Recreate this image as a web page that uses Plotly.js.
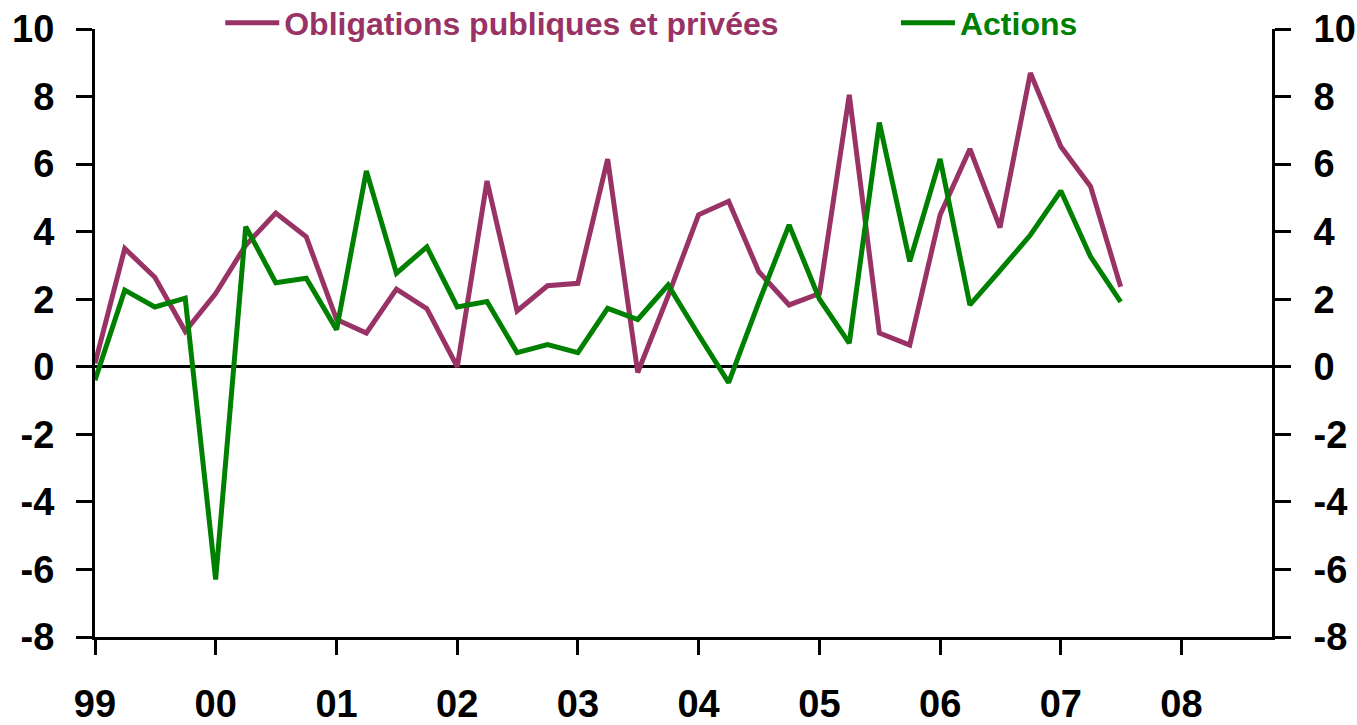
<!DOCTYPE html>
<html>
<head>
<meta charset="utf-8">
<script src="https://cdn.plot.ly/plotly-3.0.1.min.js"></script>
<style>html,body{margin:0;padding:0;background:#fff}#chart{width:1357px;height:725px}</style>
</head>
<body>
<div id="chart"></div>
<script>
// Quarterly dates (1999Q1 .. 2007Q3)
var quarters = [
  '1999-01-01','1999-04-01','1999-07-01','1999-10-01',
  '2000-01-01','2000-04-01','2000-07-01','2000-10-01',
  '2001-01-01','2001-04-01','2001-07-01','2001-10-01',
  '2002-01-01','2002-04-01','2002-07-01','2002-10-01',
  '2003-01-01','2003-04-01','2003-07-01','2003-10-01',
  '2004-01-01','2004-04-01','2004-07-01','2004-10-01',
  '2005-01-01','2005-04-01','2005-07-01','2005-10-01',
  '2006-01-01','2006-04-01','2006-07-01','2006-10-01',
  '2007-01-01','2007-04-01','2007-07-01'
];
var obligations = [
  0.1, 3.5, 2.65, 1.05,
  2.17, 3.6, 4.55, 3.85,
  1.4, 1.0, 2.3, 1.72,
  0.0, 5.5, 1.65, 2.4,
  2.47, 6.15, -0.17, 2.1,
  4.5, 4.9, 2.82, 1.83,
  2.17, 8.05, 1.0, 0.64,
  4.5, 6.45, 4.12, 8.7,
  6.52, 5.34, 2.37
];
var actions = [
  -0.4, 2.27, 1.77, 2.03,
  -6.3, 4.15, 2.49, 2.62,
  1.1, 5.8, 2.77, 3.55,
  1.77, 1.93, 0.42, 0.66,
  0.42, 1.73, 1.4, 2.42,
  0.95, -0.47, 1.9, 4.2,
  2.0, 0.7, 7.23, 3.12,
  6.15, 1.83, 2.85, 3.9,
  5.21, 3.26, 1.92
];
var seriesNames = ['Obligations publiques et privées', 'Actions'];
var seriesColors = ['#993366', '#008000'];
var yTickVals = [-8, -6, -4, -2, 0, 2, 4, 6, 8, 10];
var yTickText = ['-8', '-6', '-4', '-2', '0', '2', '4', '6', '8', '10'];

var FONT = 'Liberation Sans, Arial, sans-serif';

var traces = [
  {
    x: quarters, y: obligations, type: 'scatter', mode: 'lines',
    name: '<span style="color:' + seriesColors[0] + '">' + seriesNames[0] + '</span>',
    line: {color: seriesColors[0], width: 5},
    legend: 'legend',
    hoverinfo: 'skip'
  },
  {
    x: quarters, y: actions, type: 'scatter', mode: 'lines', yaxis: 'y2',
    name: '<span style="color:' + seriesColors[1] + '">' + seriesNames[1] + '</span>',
    line: {color: seriesColors[1], width: 5},
    legend: 'legend2',
    hoverinfo: 'skip'
  }
];

var yCommon = {
  range: [-8, 10], tickmode: 'array', tickvals: yTickVals, ticktext: yTickText,
  showline: true, linecolor: '#000', linewidth: 3,
  ticks: 'outside', ticklen: 16, tickwidth: 3, tickcolor: '#000',
  showgrid: false,
  tickfont: {family: FONT, size: 38, color: '#000', weight: 'bold'},
  fixedrange: true
};

var legendCommon = {
  orientation: 'h', y: 1.01, yanchor: 'middle', xanchor: 'left',
  font: {family: FONT, size: 32, weight: 'bold'},
  itemwidth: 54,
  bgcolor: 'rgba(0,0,0,0)', borderwidth: 0
};

var layout = {
  width: 1357, height: 725,
  margin: {l: 95, r: 85, t: 29, b: 88, pad: 0, autoexpand: false},
  paper_bgcolor: '#fff', plot_bgcolor: '#fff',
  showlegend: true,
  legend: Object.assign({}, legendCommon, {x: 0.1064}),
  legend2: Object.assign({}, legendCommon, {x: 0.6805}),
  xaxis: {
    type: 'date', range: ['1999-01-01', '2008-10-01'],
    tick0: '1999-01-01', dtick: 'M12', tickformat: '%y',
    showline: true, linecolor: '#000', linewidth: 3,
    ticks: 'outside', ticklen: 15, tickwidth: 3, tickcolor: '#000',
    showgrid: false, zeroline: false,
    tickfont: {family: FONT, size: 38, color: '#000', weight: 'bold'},
    ticklabelstandoff: 16,
    fixedrange: true
  },
  yaxis: Object.assign({}, yCommon, {
    side: 'left', zeroline: true, zerolinecolor: '#000', zerolinewidth: 3,
    ticklabelstandoff: 14
  }),
  yaxis2: Object.assign({}, yCommon, {
    side: 'right', overlaying: 'y', zeroline: false,
    ticklabelstandoff: 15
  })
};

Plotly.newPlot('chart', traces, layout, {displayModeBar: false, staticPlot: true});
</script>
</body>
</html>
